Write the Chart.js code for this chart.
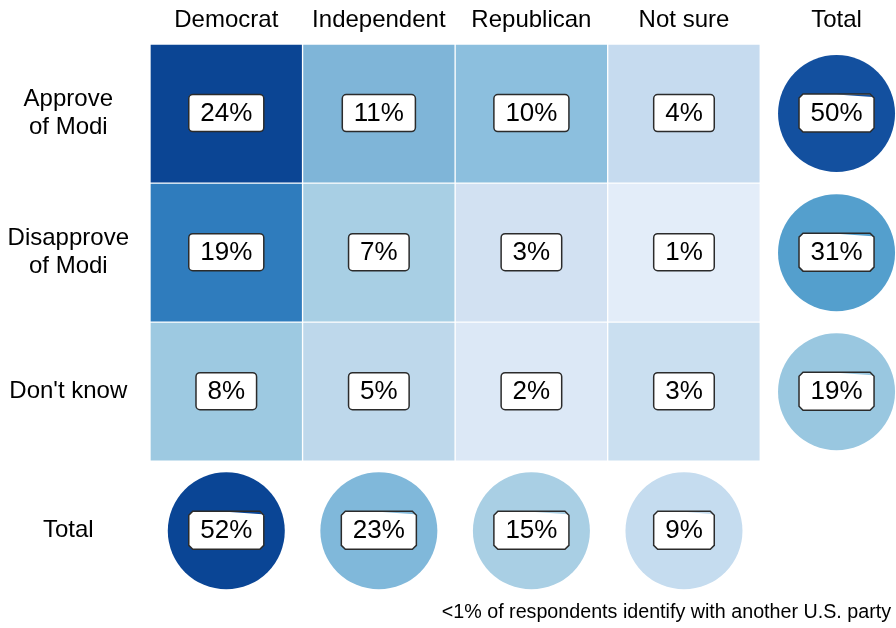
<!DOCTYPE html>
<html>
<head>
<meta charset="utf-8">
<script src="https://cdn.jsdelivr.net/npm/chart.js@4/dist/chart.umd.min.js"></script>
<style>
  html, body { margin: 0; padding: 0; background: #ffffff; overflow: hidden; }
  canvas { display: block; }
</style>
</head>
<body>
<canvas id="c" width="896" height="628"></canvas>
<script>
// ---- Data ----
const columns = ['Democrat', 'Independent', 'Republican', 'Not sure'];
const rowLabels = [['Approve', 'of Modi'], ['Disapprove', 'of Modi'], ["Don't know"]];
const totalLabel = 'Total';
const approve = [24, 11, 10, 4];
const disapprove = [19, 7, 3, 1];
const dontKnow = [8, 5, 2, 3];
const rowTotals = [50, 31, 19];
const columnTotals = [52, 23, 15, 9];
const footnote = '<1% of respondents identify with another U.S. party';

// ---- Colours (styles) ----
const cellColors = [
  ['#0b4594', '#7fb5d8', '#8cbfde', '#c6dbef'],
  ['#2f7cbd', '#a8cfe4', '#d2e1f2', '#e3edf9'],
  ['#9dc9e1', '#bed8eb', '#dce8f6', '#cadff0']
];
const rowTotalColors = ['#13509f', '#549fcd', '#99c7e0'];
const columnTotalColors = ['#0a4595', '#80b8da', '#a9cfe4', '#c5dcef'];

const rowValues = [approve, disapprove, dontKnow];
const xLabels = columns.concat([totalLabel]);
const yLabels = rowLabels.concat([totalLabel]);

const FONT = "'Liberation Sans', Arial, Helvetica, sans-serif";

const barDatasets = rowValues.map((vals, r) => ({
  type: 'bar',
  label: [].concat(yLabels[r]).join(' '),
  data: vals.map((v, i) => ({ x: i, y: [r, r + 1], v: v })),
  backgroundColor: cellColors[r],
  borderColor: 'rgba(255,255,255,0.3)',
  borderWidth: 1,
  borderSkipped: false,
  grouped: false,
  barPercentage: 1,
  categoryPercentage: 1,
  labelStyle: 'round'
}));

const circleData = rowTotals.map((v, r) => ({ x: columns.length, y: r + 0.5, v: v }))
  .concat(columnTotals.map((v, i) => ({ x: i, y: rowLabels.length + 0.5, v: v })));
const circleColors = rowTotalColors.concat(columnTotalColors);

const bubbleDataset = {
  type: 'bubble',
  label: 'Totals',
  data: circleData,
  backgroundColor: circleColors,
  borderWidth: 0,
  radius: 58.5,
  hoverRadius: 0,
  clip: false,
  labelStyle: 'chamfer'
};

function chamferPath(ctx, x0, y0, w, h, c) {
  ctx.beginPath();
  ctx.moveTo(x0 + c, y0);
  ctx.lineTo(x0 + w - c, y0);
  ctx.lineTo(x0 + w, y0 + c);
  ctx.lineTo(x0 + w, y0 + h - c);
  ctx.lineTo(x0 + w - c, y0 + h);
  ctx.lineTo(x0 + c, y0 + h);
  ctx.lineTo(x0, y0 + h - c);
  ctx.lineTo(x0, y0 + c);
  ctx.closePath();
}

const labelPlugin = {
  id: 'boxLabels',
  afterDatasetsDraw(chart) {
    const ctx = chart.ctx;
    ctx.save();
    ctx.font = '26px ' + FONT;
    ctx.textAlign = 'center';
    ctx.textBaseline = 'middle';
    chart.data.datasets.forEach((ds, di) => {
      const meta = chart.getDatasetMeta(di);
      meta.data.forEach((el, i) => {
        const raw = ds.data[i];
        const txt = raw.v + '%';
        let cx, cy;
        if (ds.type === 'bar') {
          cx = el.x;
          cy = (el.y + el.base) / 2;
        } else {
          cx = el.x; cy = el.y;
        }
        const tw = ctx.measureText(txt).width;
        const round = ds.labelStyle === 'round';
        const w = tw + 23, h = round ? 37 : 38;
        const x0 = cx - w / 2, y0 = cy - h / 2 - 0.5;
        if (round) {
          ctx.beginPath();
          ctx.roundRect(x0, y0, w, h, 4);
          ctx.fillStyle = '#ffffff';
          ctx.fill();
        } else {
          chamferPath(ctx, x0, y0, w, h, 4);
          ctx.fillStyle = '#ffffff';
          ctx.fill();
          // small tinted sliver along the top-right edge of the box
          ctx.beginPath();
          ctx.moveTo(x0 + w * 0.5, y0 + 0.5);
          ctx.lineTo(x0 + w - 4, y0 + 0.5);
          ctx.lineTo(x0 + w - 1.5, y0 + 3);
          ctx.closePath();
          ctx.fillStyle = ds.backgroundColor[i];
          ctx.fill();
          chamferPath(ctx, x0, y0, w, h, 4);
        }
        ctx.lineWidth = 1.5;
        ctx.strokeStyle = '#2b2b2b';
        ctx.stroke();
        ctx.fillStyle = '#000000';
        ctx.fillText(txt, cx, cy + 0.5);
      });
    });
    ctx.restore();
  }
};

function zeroPad(axis) {
  axis.paddingLeft = 0; axis.paddingRight = 0;
  axis.paddingTop = 0; axis.paddingBottom = 0;
}

new Chart(document.getElementById('c'), {
  data: { datasets: barDatasets.concat([bubbleDataset]) },
  options: {
    responsive: false,
    animation: false,
    events: [],
    layout: { autoPadding: false, padding: { left: 0, right: 5, top: 0, bottom: 0 } },
    plugins: {
      legend: { display: false },
      tooltip: { enabled: false },
      title: {
        display: true,
        text: footnote,
        position: 'bottom',
        align: 'end',
        color: '#000000',
        font: { family: FONT, size: 19.7, weight: 'normal', lineHeight: 1.2 },
        padding: { top: 0, bottom: 4 }
      }
    },
    scales: {
      x: {
        type: 'linear',
        position: 'top',
        offset: false,
        min: -0.5,
        max: 4.357,
        grid: { display: false, drawTicks: false, offset: false },
        border: { display: false },
        afterBuildTicks: (axis) => { axis.ticks = xLabels.map((_, i) => ({ value: i })); },
        afterFit: (axis) => { axis.height = 44; zeroPad(axis); },
        ticks: {
          autoSkip: false,
          maxRotation: 0,
          minRotation: 0,
          padding: 9,
          color: '#000000',
          font: { family: FONT, size: 24 },
          callback: (v) => xLabels[v]
        }
      },
      y: {
        type: 'linear',
        reverse: true,
        offset: false,
        min: 0,
        max: 4,
        grid: { display: false, drawTicks: false },
        border: { display: false },
        afterBuildTicks: (axis) => { axis.ticks = yLabels.map((_, i) => ({ value: i + 0.5 })); },
        afterFit: (axis) => { axis.width = 150; zeroPad(axis); },
        ticks: {
          autoSkip: false,
          crossAlign: 'center',
          padding: 21,
          color: '#000000',
          font: { family: FONT, size: 24, lineHeight: 1.15 },
          callback: (v) => yLabels[Math.round(v - 0.5)]
        }
      }
    }
  },
  plugins: [labelPlugin]
});
</script>
</body>
</html>
